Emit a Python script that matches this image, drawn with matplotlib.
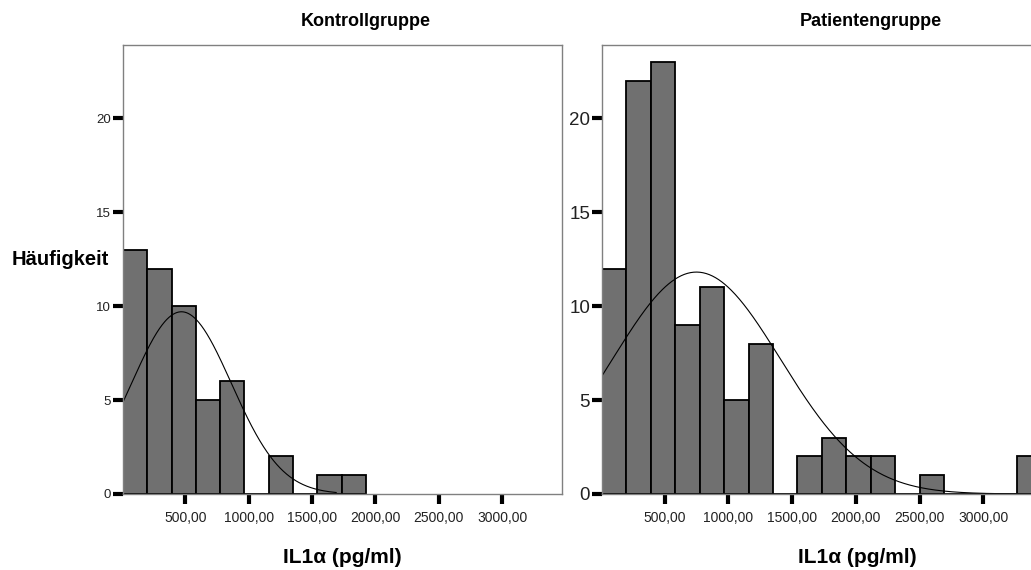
import matplotlib
matplotlib.use("Agg")
import matplotlib.pyplot as plt
import numpy as np

plt.rcParams['font.family'] = ['Liberation Sans', 'DejaVu Sans']

# Histogramm-Daten (Klassenbreite ca. 191.6 pg/ml, Start bei ca. 9)
bin_start = 9.0
bin_width = 191.6
kontroll_counts = [13, 12, 10, 5, 6, 0, 2, 0, 1, 1]
patient_counts = [12, 22, 23, 9, 11, 5, 8, 0, 2, 3, 2, 2, 0, 1, 0, 0, 0, 2]

# Normalverteilungskurve (Mittelwert, SD, Ende der Kurve)
kontroll_mean, kontroll_sd, kontroll_end = 470, 394, 1690
patient_mean, patient_sd, patient_end = 750, 660, 3270

xticks = [500, 1000, 1500, 2000, 2500, 3000]
xticklabels = ['500,00', '1000,00', '1500,00', '2000,00', '2500,00', '3000,00']
yticks = [0, 5, 10, 15, 20]

W, H = 1031, 570
fig = plt.figure(figsize=(W / 100, H / 100), dpi=100)

ax1 = fig.add_axes([123 / W, 76 / H, 439 / W, 449 / H])
ax2 = fig.add_axes([602 / W, 76 / H, 510 / W, 449 / H])


def draw_panel(ax, counts, mean, sd, end, xmax, ylabsize):
    counts = np.array(counts)
    edges = bin_start + bin_width * np.arange(len(counts))
    ax.bar(edges, counts, width=bin_width, align='edge',
           color='#707070', edgecolor='black', linewidth=1.3)
    n = counts.sum()
    xs = np.linspace(bin_start, end, 400)
    ys = n * bin_width / (sd * np.sqrt(2 * np.pi)) * np.exp(-0.5 * ((xs - mean) / sd) ** 2)
    ax.plot(xs, ys, color='black', linewidth=0.8)
    ax.set_xlim(bin_start, xmax)
    ax.set_ylim(0, 23.9)
    ax.set_xticks(xticks)
    ax.set_xticklabels(xticklabels)
    ax.set_yticks(yticks)
    for s in ax.spines.values():
        s.set_color('#808080')
        s.set_linewidth(1)
    ax.tick_params(axis='x', direction='out', length=7, width=3, pad=5,
                   labelsize=10, colors='black', labelcolor='#222222')
    ax.tick_params(axis='y', direction='out', length=7.5, width=3, pad=1,
                   labelsize=ylabsize, colors='black', labelcolor='#222222')


draw_panel(ax1, kontroll_counts, kontroll_mean, kontroll_sd, kontroll_end, 3471, 9.5)
draw_panel(ax2, patient_counts, patient_mean, patient_sd, patient_end, 4009, 13.5)

fig.text(366 / W, 1 - 21 / H, 'Kontrollgruppe', ha='center', va='center',
         fontsize=13, fontweight='bold')
fig.text(871 / W, 1 - 21 / H, 'Patientengruppe', ha='center', va='center',
         fontsize=13, fontweight='bold')
fig.text(12 / W, 1 - 265 / H, 'Häufigkeit', ha='left', va='baseline',
         fontsize=14.5, fontweight='bold')
fig.text(342 / W, 1 - 563 / H, 'IL1α (pg/ml)', ha='center', va='baseline',
         fontsize=15, fontweight='bold')
fig.text(857 / W, 1 - 563 / H, 'IL1α (pg/ml)', ha='center', va='baseline',
         fontsize=15, fontweight='bold')

fig.savefig('out.png', dpi=100)
